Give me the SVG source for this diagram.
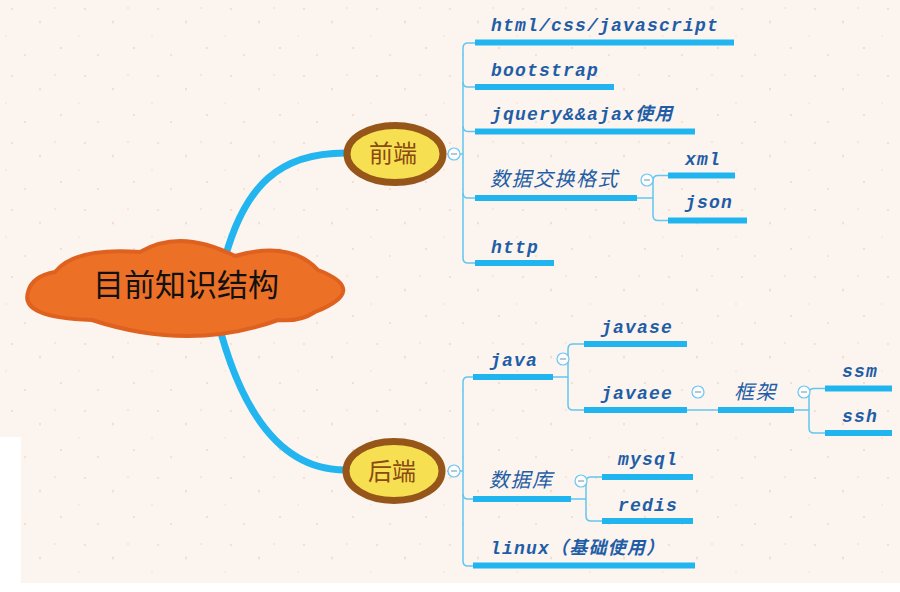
<svg xmlns="http://www.w3.org/2000/svg" width="900" height="592" viewBox="0 0 900 592">
<defs>
<pattern id="speck" width="73" height="67" patternUnits="userSpaceOnUse">
<rect width="73" height="67" fill="#fcf4ef"/>
<ellipse cx="12" cy="9" rx="1.3" ry="0.8" fill="#f1c7ad" opacity="0.7"/>
<ellipse cx="40" cy="22" rx="0.8" ry="1.6" fill="#efc0a2" opacity="0.6"/>
<ellipse cx="61" cy="48" rx="1.2" ry="0.9" fill="#f3cdb7" opacity="0.7"/>
<ellipse cx="25" cy="55" rx="0.9" ry="0.9" fill="#f0c4a8" opacity="0.6"/>
<ellipse cx="55" cy="8" rx="0.7" ry="1.2" fill="#f4d3c0" opacity="0.7"/>
<ellipse cx="6" cy="36" rx="1" ry="0.7" fill="#f4d0bc" opacity="0.6"/>
</pattern>
</defs>
<style>
.bar{fill:#21b5ef}
.ln{fill:none;stroke:#62c6f1;stroke-width:1.5}
.main{fill:none;stroke:#22b5ef;stroke-width:7;stroke-linecap:round}
.t{font-family:"Liberation Mono","Noto Sans CJK SC",monospace;font-weight:bold;font-style:italic;font-size:18px;fill:#1f5ea6;letter-spacing:1.2px}
.c{font-family:"Noto Sans CJK SC",sans-serif;font-style:italic;font-size:20px;fill:#1f5ea6;letter-spacing:1.5px}
.col circle{fill:#fafcfe;stroke:#6cc6f0;stroke-width:1.2}
.col line{stroke:#8aa4b8;stroke-width:1.2}
.oval{fill:#f6e051;stroke:#96561a;stroke-width:7}
.ot{font-family:"Noto Sans CJK SC",sans-serif;font-size:24px;fill:#8a4a12;text-anchor:middle}
</style>
<rect width="900" height="592" fill="#ffffff"/>
<path d="M0,0 H900 V583 H21 V437 H0 Z" fill="url(#speck)"/>

<g id="connectors">
<path class="main" d="M225,258 C245,185 280,153 345,153"/>
<path class="main" d="M217,318 C240,410 280,470 345,470"/>
<!-- front -->
<path class="ln" d="M447,154 H463"/>
<path class="ln" d="M475,43 H468 Q463,43 463,48 V258 Q463,263 468,263 H475"/>
<path class="ln" d="M463,82 Q463,87 468,87 H475"/>
<path class="ln" d="M463,126 Q463,131.5 468,131.5 H475"/>
<path class="ln" d="M463,193 Q463,198 468,198 H475"/>
<path class="ln" d="M637,198 H653"/>
<path class="ln" d="M668,175.5 H658 Q653,175.5 653,180.5 V215.5 Q653,220.5 658,220.5 H668"/>
<!-- back -->
<path class="ln" d="M447,471 H463"/>
<path class="ln" d="M473,377 H468 Q463,377 463,382 V561 Q463,566 468,566 H473"/>
<path class="ln" d="M463,494 Q463,499 468,499 H473"/>
<path class="ln" d="M553,377 H568"/>
<path class="ln" d="M584,344 H573 Q568,344 568,349 V405 Q568,410 573,410 H584"/>
<path class="ln" d="M687,410 H718"/>
<path class="ln" d="M794,410 H809"/>
<path class="ln" d="M825,388.5 H814 Q809,388.5 809,393.5 V428 Q809,433 814,433 H825"/>
<path class="ln" d="M571,499 H586"/>
<path class="ln" d="M602,477 H591 Q586,477 586,482 V516 Q586,521 591,521 H602"/>
</g>

<g id="root">
<path d="M55,272 Q75,247 140,252 Q180,228 235,256 Q290,240 318,270 Q370,290 315,312 Q300,322 278,320 Q190,352 92,320 Q20,318 28,292 Q32,276 55,272 Z" fill="#ed7027" stroke="#df611f" stroke-width="4" stroke-linejoin="round"/>
<text x="186" y="296" font-family="'Noto Sans CJK SC',sans-serif" font-size="31" fill="#111" text-anchor="middle">目前知识结构</text>
</g>

<g id="frontend">
<ellipse class="oval" cx="395" cy="154" rx="48" ry="28.5"/>
<text class="ot" x="393" y="162">前端</text>
<g class="col"><circle cx="454" cy="154" r="6"/><line x1="451" y1="154" x2="457" y2="154"/></g>
</g>

<g id="backend">
<ellipse class="oval" cx="394" cy="471" rx="48" ry="29.5"/>
<text class="ot" x="392" y="480">后端</text>
<g class="col"><circle cx="454" cy="471" r="6"/><line x1="451" y1="471" x2="457" y2="471"/></g>
</g>

<g id="n-html"><rect class="bar" x="475" y="39.5" width="259" height="6"/><text class="t" x="491" y="31">html/css/javascript</text></g>
<g id="n-bootstrap"><rect class="bar" x="475" y="84" width="139" height="6"/><text class="t" x="491" y="76">bootstrap</text></g>
<g id="n-jquery"><rect class="bar" x="475" y="128.5" width="220" height="6"/><text class="t" x="491" y="120">jquery&amp;&amp;ajax使用</text></g>
<g id="n-data"><rect class="bar" x="475" y="195" width="162" height="6"/><text class="c" x="490" y="186">数据交换格式</text>
<g class="col"><circle cx="647" cy="180" r="6"/><line x1="644" y1="180" x2="650" y2="180"/></g></g>
<g id="n-xml"><rect class="bar" x="668" y="172.5" width="67" height="6"/><text class="t" x="685" y="165">xml</text></g>
<g id="n-json"><rect class="bar" x="668" y="217.5" width="79" height="6"/><text class="t" x="685" y="208">json</text></g>
<g id="n-http"><rect class="bar" x="475" y="260" width="79" height="6"/><text class="t" x="491" y="253">http</text></g>

<g id="n-java"><rect class="bar" x="473" y="374" width="80" height="6"/><text class="t" x="490" y="366">java</text>
<g class="col"><circle cx="563" cy="359" r="6"/><line x1="560" y1="359" x2="566" y2="359"/></g></g>
<g id="n-javase"><rect class="bar" x="584" y="341" width="103" height="6"/><text class="t" x="601" y="333">javase</text></g>
<g id="n-javaee"><rect class="bar" x="584" y="407" width="103" height="6"/><text class="t" x="601" y="399">javaee</text>
<g class="col"><circle cx="698" cy="392" r="6"/><line x1="695" y1="392" x2="701" y2="392"/></g></g>
<g id="n-kuangjia"><rect class="bar" x="718" y="407" width="76" height="6"/><text class="c" x="734" y="399">框架</text>
<g class="col"><circle cx="804" cy="392" r="6"/><line x1="801" y1="392" x2="807" y2="392"/></g></g>
<g id="n-ssm"><rect class="bar" x="825" y="385.5" width="67" height="6"/><text class="t" x="842" y="377">ssm</text></g>
<g id="n-ssh"><rect class="bar" x="825" y="430" width="67" height="6"/><text class="t" x="842" y="422">ssh</text></g>
<g id="n-db"><rect class="bar" x="473" y="496" width="98" height="6"/><text class="c" x="489" y="487">数据库</text>
<g class="col"><circle cx="581" cy="481" r="6"/><line x1="578" y1="481" x2="584" y2="481"/></g></g>
<g id="n-mysql"><rect class="bar" x="602" y="474" width="91" height="6"/><text class="t" x="618" y="465">mysql</text></g>
<g id="n-redis"><rect class="bar" x="602" y="518" width="91" height="6"/><text class="t" x="618" y="511">redis</text></g>
<g id="n-linux"><rect class="bar" x="473" y="562.5" width="222" height="6"/><text class="t" x="490" y="554">linux（基础使用）</text></g>
</svg>
